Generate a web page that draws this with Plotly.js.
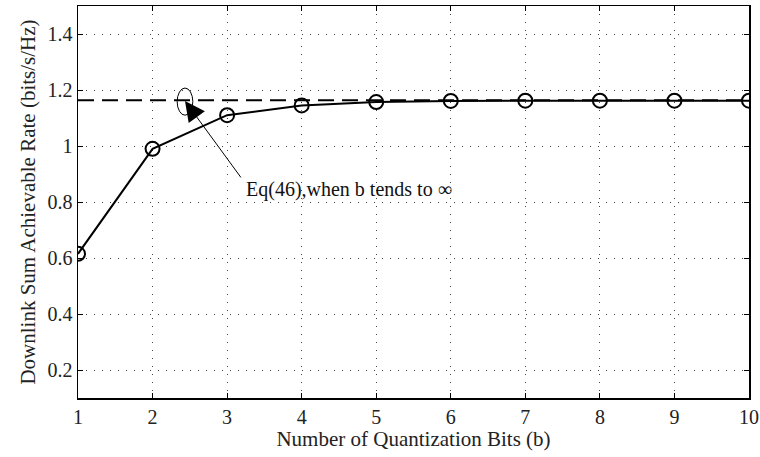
<!DOCTYPE html>
<html><head><meta charset="utf-8">
<script src="https://cdn.plot.ly/plotly-3.0.1.min.js"></script>
<style>body{margin:0;background:#fff}#c{width:760px;height:457px}</style>
</head><body><div id="c"></div>
<script>
const bits = [1,2,3,4,5,6,7,8,9,10];
const rate = [0.615,0.99,1.11,1.145,1.157,1.161,1.162,1.162,1.162,1.162];
const limitRate = 1.163;
const xTitle = 'Number of Quantization Bits (b)';
const yTitle = 'Downlink Sum Achievable Rate (bits/s/Hz)';
const noteText = 'Eq(46),when b tends to ∞';
const font = 'Liberation Serif, Times New Roman, serif';

const traces = [
  {x:[bits[0], bits[bits.length-1]], y:[limitRate, limitRate], mode:'lines',
   line:{color:'#000', width:2, dash:'16px,8px'}, hoverinfo:'skip'},
  {x:bits, y:rate, mode:'lines+markers',
   line:{color:'#000', width:2},
   marker:{symbol:'circle-open', size:14, color:'#000', line:{width:2, color:'#000'}}}
];
const ax = {showline:true, linecolor:'#000', linewidth:1.5, mirror:'ticks', ticks:'inside', ticklen:5, tickcolor:'#000',
  showgrid:true, gridcolor:'#444', griddash:'1px,7px', gridwidth:1, zeroline:false,
  tickfont:{family:font, size:20, color:'#222'}};
const layout = {
  width:760, height:457, margin:{l:78, r:11, t:6, b:59},
  paper_bgcolor:'#fff', plot_bgcolor:'#fff', showlegend:false,
  font:{family:font, color:'#222'},
  xaxis:Object.assign({}, ax, {range:[1,10], tickvals:bits, title:{text:xTitle, font:{family:font, size:21, color:'#222'}, standoff:2}}),
  yaxis:Object.assign({}, ax, {range:[0.1,1.5], tickvals:[0.2,0.4,0.6,0.8,1,1.2,1.4], ticktext:['0.2','0.4','0.6','0.8','1','1.2','1.4'], title:{text:yTitle, font:{family:font, size:21, color:'#222'}, standoff:6}}),
  shapes:[{type:'circle', xref:'x', yref:'y', x0:2.33, x1:2.54, y0:1.11, y1:1.207, line:{color:'#000', width:1}}],
  annotations:[
    {x:2.435, y:1.161, xref:'x', yref:'y', text:'', showarrow:true, ax:57, ay:78, arrowhead:2, arrowsize:4, arrowwidth:1, arrowcolor:'#000'},
    {x:3.22, y:0.843, xref:'x', yref:'y', xanchor:'left', yanchor:'middle', text:noteText, showarrow:false, font:{family:font, size:20, color:'#111'}}
  ]
};
Plotly.newPlot('c', traces, layout, {displayModeBar:false, staticPlot:true});
</script></body></html>
